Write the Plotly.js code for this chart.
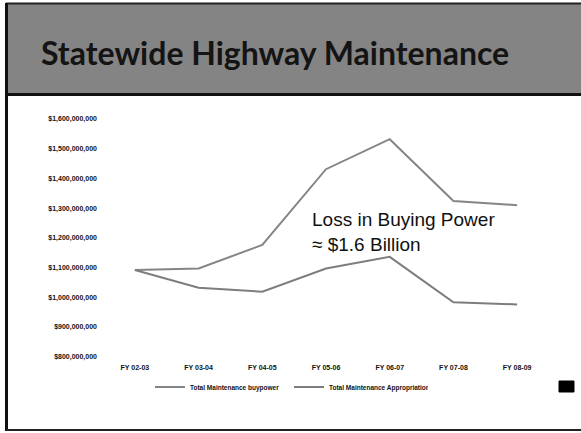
<!DOCTYPE html>
<html>
<head>
<meta charset="utf-8">
<script src="https://cdn.plot.ly/plotly-3.0.1.min.js"></script>
<style>html,body{margin:0;padding:0;background:#fff;}#chart{width:581px;height:433px;}</style>
</head>
<body>
<div id="chart"></div>
<script>
const categories = ['FY 02-03', 'FY 03-04', 'FY 04-05', 'FY 05-06', 'FY 06-07', 'FY 07-08', 'FY 08-09'];
const buypower = [1092000000, 1097000000, 1176000000, 1431000000, 1532000000, 1324000000, 1310000000];
const appropriation = [1092000000, 1032000000, 1019000000, 1097000000, 1136000000, 983000000, 976000000];
const seriesNames = ['Total Maintenance buypower', 'Total Maintenance Appropriation'];
const chartTitle = 'Statewide Highway Maintenance';
const noteText = 'Loss in Buying Power<br>≈ $1.6 Billion';

const W = 581, H = 433;
const px = x => x / W;
const py = y => 1 - y / H;

const tickFont = {family: 'Liberation Sans, Arial, sans-serif', size: 7, color: '#111', weight: 'bold'};

const traces = [
  {x: categories, y: buypower, name: seriesNames[0], type: 'scatter', mode: 'lines',
   line: {color: '#858585', width: 2}},
  {x: categories, y: appropriation, name: seriesNames[1], type: 'scatter', mode: 'lines',
   line: {color: '#7d7d7d', width: 2}}
];

const layout = {
  width: W, height: H,
  margin: {l: 0, r: 0, t: 0, b: 0, pad: 0},
  paper_bgcolor: '#fff', plot_bgcolor: '#fff',
  showlegend: true,
  title: {
    text: chartTitle, xref: 'paper', yref: 'paper',
    x: px(41), xanchor: 'left', y: py(54), yanchor: 'middle',
    font: {family: 'Lato, Open Sans, sans-serif', size: 32, color: '#141414', weight: 'bold'}
  },
  xaxis: {
    type: 'category', domain: [px(103), px(549)], range: [-0.5, 6.5],
    showgrid: false, zeroline: false, showline: false, ticks: '',
    tickfont: tickFont, ticklabelstandoff: 5, automargin: false, fixedrange: true
  },
  yaxis: {
    domain: [py(356.7), py(119)], range: [800000000, 1600000000],
    dtick: 100000000, tick0: 0, tickformat: '$,.0f',
    showgrid: false, zeroline: false, showline: false, ticks: '',
    tickfont: tickFont, ticklabelstandoff: 5, automargin: false, fixedrange: true
  },
  legend: {
    orientation: 'h', xref: 'paper', yref: 'paper',
    x: px(150), xanchor: 'left', y: py(387), yanchor: 'middle',
    font: {family: 'Liberation Sans, Arial, sans-serif', size: 6.5, color: '#111', weight: 'bold'},
    bgcolor: 'rgba(0,0,0,0)', entrywidth: 94, entrywidthmode: 'pixels'
  },
  annotations: [{
    text: noteText, xref: 'paper', yref: 'paper',
    x: px(310), xanchor: 'left', y: py(207), yanchor: 'top',
    align: 'left', showarrow: false,
    font: {family: 'Liberation Sans, Arial, sans-serif', size: 19, color: '#111'}
  }],
  shapes: [
    {type: 'rect', xref: 'paper', yref: 'paper', x0: px(6), x1: 1, y0: py(95), y1: py(4),
     fillcolor: '#848484', line: {width: 0}, layer: 'below'},
    {type: 'line', xref: 'paper', yref: 'paper', x0: px(6), x1: 1, y0: py(94.5), y1: py(94.5),
     line: {color: '#111', width: 3}},
    {type: 'line', xref: 'paper', yref: 'paper', x0: px(6), x1: 1, y0: py(3.5), y1: py(3.5),
     line: {color: '#222', width: 2}},
    {type: 'line', xref: 'paper', yref: 'paper', x0: px(6.5), x1: px(6.5), y0: py(3), y1: py(431),
     line: {color: '#111', width: 3}},
    {type: 'line', xref: 'paper', yref: 'paper', x0: px(6), x1: 1, y0: py(430), y1: py(430),
     line: {color: '#222', width: 2}},
    {type: 'rect', xref: 'paper', yref: 'paper', x0: px(559), x1: px(574), y0: py(392), y1: py(381),
     fillcolor: '#000', line: {color: '#000', width: 1}}
  ]
};

Plotly.newPlot('chart', traces, layout, {displayModeBar: false, staticPlot: true});
</script>
</body>
</html>
